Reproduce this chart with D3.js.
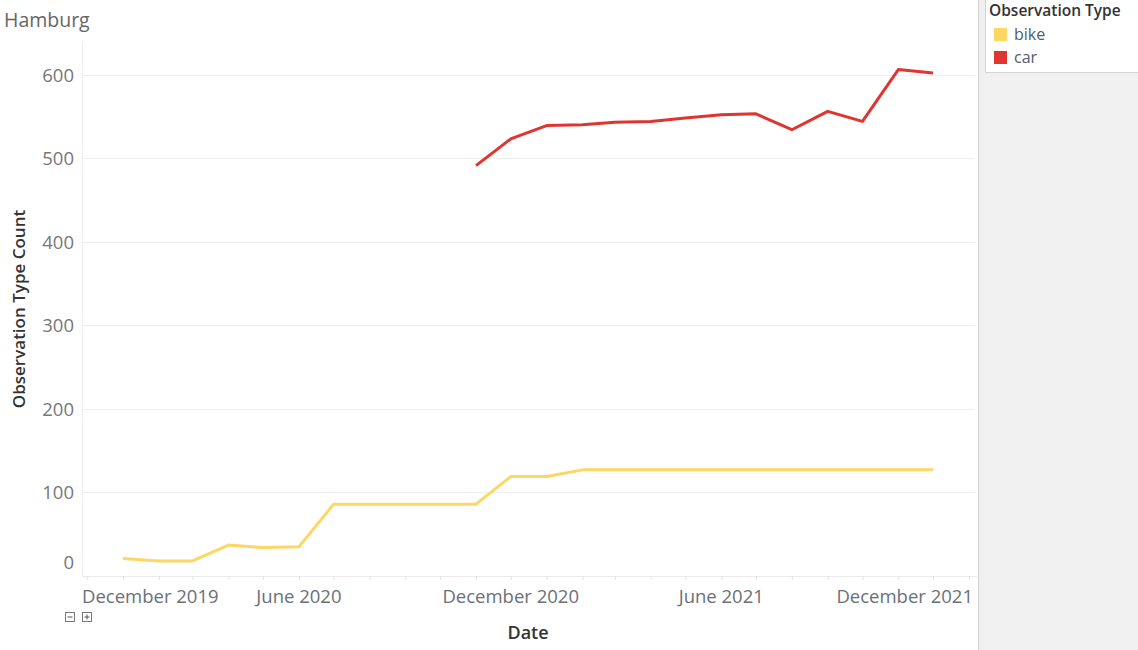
<!DOCTYPE html>
<html><head><meta charset="utf-8">
<script src="https://cdn.jsdelivr.net/npm/d3@7"></script>
<style>
html,body{margin:0;padding:0;background:#fff;}
svg{display:block;font-family:"Open Sans",sans-serif;}
</style></head>
<body>
<svg id="chart" width="1138" height="650"></svg>
<script>
const seriesNames = ["bike", "car"];
const bikeMonths = ["2020-01","2020-02","2020-03","2020-04","2020-05","2020-06","2020-07","2020-08","2020-09","2020-10","2020-11","2020-12",
                    "2021-01","2021-02","2021-03","2021-04","2021-05","2021-06","2021-07","2021-08","2021-09","2021-10","2021-11","2021-12"];
const bikeValues = [21,18,18,37,34,35,86,86,86,86,86,119,119,127,127,127,127,127,127,127,127,127,127,127];
const carMonths = ["2020-11","2020-12","2021-01","2021-02","2021-03","2021-04","2021-05","2021-06","2021-07","2021-08","2021-09","2021-10","2021-11","2021-12"];
const carValues = [491,523,539,540,543,544,548,552,553,534,556,544,606,602];
const yTicks = [0,100,200,300,400,500,600];
const xLabelDates = ["2019-12","2020-06","2020-12","2021-06","2021-12"];
const xLabels = ["December 2019","June 2020","December 2020","June 2021","December 2021"];
const colors = {bike:"#fdd663", car:"#e03430"};

(function(){
const parse = d3.utcParse("%Y-%m");
const svg = d3.select("#chart");

const pL = 82, pR = 977, pT = 42, pB = 576;
const x = d3.scaleUtc().domain([Date.UTC(2019,10,26,12), Date.UTC(2022,0,8)]).range([pL, pR]);
const y = d3.scaleLinear().domain([0, 639]).range([pB, pT]);

// right panel
svg.append("rect").attr("x",978).attr("y",0).attr("width",160).attr("height",650).attr("fill","#f0f0f0");
svg.append("line").attr("x1",978.5).attr("x2",978.5).attr("y1",0).attr("y2",650).attr("stroke","#d0d0d0");
svg.append("rect").attr("x",985.5).attr("y",-1).attr("width",155).attr("height",73.5).attr("fill","#fff").attr("stroke","#d4d4d4");

// title
svg.append("text").attr("x",4).attr("y",27).attr("font-size",19.5).attr("fill","#666").text("Hamburg");

// gridlines
svg.append("g").selectAll("line").data(yTicks.filter(d=>d>0)).join("line")
  .attr("x1",pL).attr("x2",pR-2).attr("y1",d=>Math.round(y(d))+0.5).attr("y2",d=>Math.round(y(d))+0.5)
  .attr("stroke","#efefef");

// axis lines
svg.append("line").attr("x1",pL+0.5).attr("x2",pL+0.5).attr("y1",pT).attr("y2",pB).attr("stroke","#ececec");
svg.append("line").attr("x1",pL).attr("x2",pR).attr("y1",pB+0.5).attr("y2",pB+0.5).attr("stroke","#ececec");

// y axis
const yAxis = svg.append("g").attr("transform",`translate(${pL},0)`)
  .call(d3.axisLeft(y).tickValues(yTicks).tickSize(0).tickPadding(8));
yAxis.select(".domain").remove();
yAxis.selectAll("text").attr("font-size",18.5).attr("fill","#777").attr("font-family","Open Sans")
  .attr("dy", d => d===0 ? "-0.38em" : "0.35em");

// x axis ticks monthly
const months = d3.utcMonth.range(Date.UTC(2019,11,1), Date.UTC(2022,0,2));
const xAxis = svg.append("g").attr("transform",`translate(0,${pB})`)
  .call(d3.axisBottom(x).tickValues(months).tickSize(4).tickFormat(""));
xAxis.select(".domain").remove();
xAxis.selectAll("line").attr("stroke","#e2e2e2");

// x labels
const labelDates = xLabelDates.map(parse);
svg.append("g").selectAll("text").data(labelDates).join("text")
  .attr("x",(d,i)=> i===0 ? pL : (i===labelDates.length-1 ? pR-4 : x(d)))
  .attr("y",603)
  .attr("text-anchor",(d,i)=> i===0 ? "start" : (i===labelDates.length-1 ? "end" : "middle"))
  .attr("font-size",18.5).attr("fill","#6b7078").text((d,i)=>xLabels[i]);

// axis titles
svg.append("text").attr("transform","translate(25,309) rotate(-90)").attr("text-anchor","middle")
  .attr("font-size",17).attr("font-weight",600).attr("fill","#333").text("Observation Type Count");
svg.append("text").attr("x",528).attr("y",639).attr("text-anchor","middle")
  .attr("font-size",18).attr("font-weight",600).attr("fill","#333").text("Date");

// minus / plus buttons
const btn = svg.append("g");
[[65,"-"],[82,"+"]].forEach(([bx,s])=>{
  btn.append("rect").attr("x",bx+0.5).attr("y",612.5).attr("width",9).attr("height",9).attr("fill","#fff").attr("stroke","#777");
  btn.append("line").attr("x1",bx+2.5).attr("x2",bx+7.5).attr("y1",617).attr("y2",617).attr("stroke","#555");
  if(s==="+") btn.append("line").attr("x1",bx+5).attr("x2",bx+5).attr("y1",614.5).attr("y2",619.5).attr("stroke","#555");
});

// lines
const line = d3.line().x(d=>x(d.date)).y(d=>y(d.value));
const bikeData = bikeMonths.map((m,i)=>({date:parse(m), value:bikeValues[i]}));
const carData = carMonths.map((m,i)=>({date:parse(m), value:carValues[i]}));
svg.append("path").datum(bikeData).attr("d",line).attr("fill","none").attr("stroke",colors.bike).attr("stroke-width",3).attr("stroke-linejoin","round");
svg.append("path").datum(carData).attr("d",line).attr("fill","none").attr("stroke",colors.car).attr("stroke-width",3).attr("stroke-linejoin","round");

// legend
svg.append("text").attr("x",989).attr("y",16).attr("font-size",15.5).attr("font-weight",600).attr("fill","#333").text("Observation Type");
const lg = svg.append("g").selectAll("g").data(seriesNames).join("g").attr("transform",(d,i)=>`translate(994,${28+i*23})`);
lg.append("rect").attr("width",13).attr("height",13).attr("fill",d=>colors[d]);
lg.append("text").attr("x",20).attr("y",12).attr("font-size",16).attr("fill","#4f5b6b").text(d=>d);
})();
</script>
</body></html>
